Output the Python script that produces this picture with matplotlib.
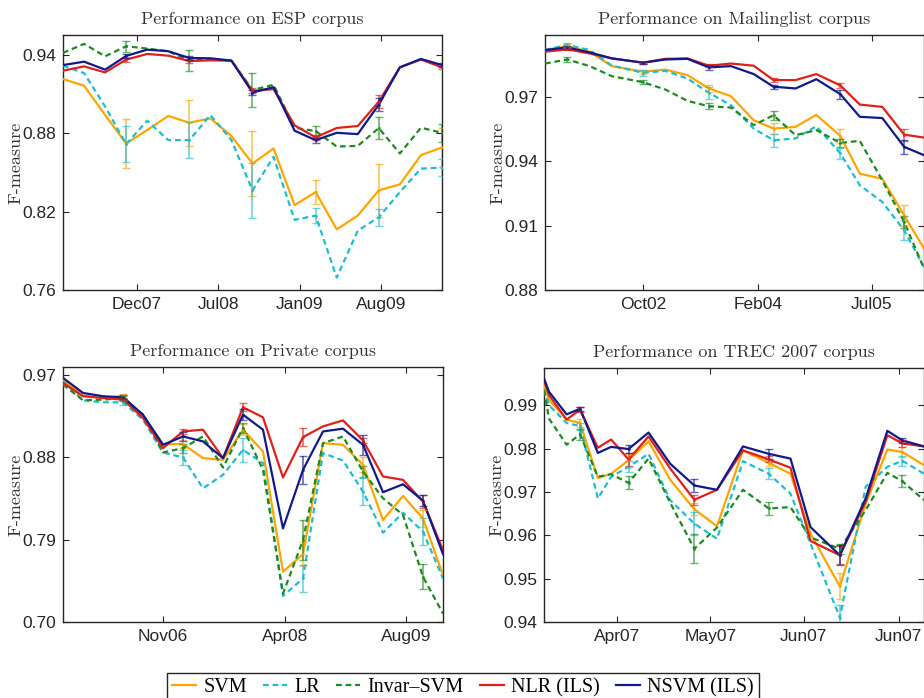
import matplotlib
matplotlib.use("Agg")
import matplotlib.pyplot as plt
from matplotlib.lines import Line2D
import numpy as np

plt.rcParams['font.family'] = ['Liberation Sans', 'DejaVu Sans']

# ---------------- ESP corpus ----------------
esp_x = np.arange(19)
esp_ticks = [3.51, 7.37, 11.24, 15.1]
esp_ticklabels = ['Dec07', 'Jul08', 'Jan09', 'Aug09']
esp_svm = [0.9213, 0.9162, 0.8938, 0.8720, 0.8823, 0.8931, 0.8879, 0.8913, 0.8777, 0.8567,
           0.8682, 0.8249, 0.8349, 0.8064, 0.8169, 0.8362, 0.8408, 0.8631, 0.8690]
esp_lr = [0.9315, 0.9259, 0.9003, 0.8715, 0.8895, 0.8746, 0.8746, 0.8938, 0.8746, 0.8362,
          0.8618, 0.8136, 0.8169, 0.7695, 0.8054, 0.8156, 0.8349, 0.8528, 0.8536]
esp_invar = [0.9413, 0.9482, 0.9387, 0.9464, 0.9446, 0.9426, 0.9354, 0.9362, 0.9354, 0.9130,
             0.9169, 0.8841, 0.8815, 0.8697, 0.8702, 0.8838, 0.8644, 0.8841, 0.8802]
esp_nlr = [0.9277, 0.9310, 0.9264, 0.9362, 0.9405, 0.9392, 0.9351, 0.9356, 0.9354, 0.9123,
           0.9136, 0.8859, 0.8767, 0.8839, 0.8854, 0.9041, 0.9303, 0.9362, 0.9303]
esp_nsvm = [0.9320, 0.9346, 0.9285, 0.9390, 0.9438, 0.9426, 0.9374, 0.9372, 0.9354, 0.9110,
            0.9151, 0.8818, 0.8746, 0.8802, 0.8792, 0.9018, 0.9303, 0.9367, 0.9320]
esp_err_idx = [3, 6, 9, 12, 15, 18]
esp_err_svm = [0.0186, 0.0176, 0.0249, 0.0090, 0.0205, 0.0150]
esp_err_lr = [0.0137, 0.0138, 0.0208, 0.0058, 0.0064, 0.0067]
esp_err_invar = [0.0042, 0.0083, 0.0128, 0.0042, 0.0087, 0.0068]
esp_err_nlr = [0.0015, 0.0015, 0.0020, 0.0020, 0.0047, 0.0015]
esp_err_nsvm = [0.0015, 0.0015, 0.0020, 0.0020, 0.0047, 0.0015]

# ---------------- Mailinglist corpus ----------------
mail_x = [0, 1.0, 2.0, 3.0, 4.4, 5.4, 6.39, 7.35, 8.34, 9.36, 10.25, 11.24, 12.17, 13.25,
          14.12, 15.13, 16.11, 17.0]
mail_ticks = [4.4, 9.54, 14.66]
mail_ticklabels = ['Oct02', 'Feb04', 'Jul05']
mail_svm = [0.9918, 0.9936, 0.9910, 0.9843, 0.9817, 0.9827, 0.9801, 0.9739, 0.9703, 0.9591,
            0.9552, 0.9560, 0.9616, 0.9517, 0.9342, 0.9318, 0.9148, 0.8993]
mail_lr = [0.9918, 0.9942, 0.9918, 0.9845, 0.9812, 0.9821, 0.9785, 0.9719, 0.9661, 0.9552,
           0.9498, 0.9506, 0.9563, 0.9436, 0.9288, 0.9210, 0.9078, 0.8907]
mail_invar = [0.9855, 0.9874, 0.9843, 0.9796, 0.9768, 0.9734, 0.9681, 0.9656, 0.9650, 0.9568,
              0.9614, 0.9521, 0.9545, 0.9485, 0.9495, 0.9311, 0.9117, 0.8900]
mail_nlr = [0.9910, 0.9921, 0.9902, 0.9879, 0.9859, 0.9877, 0.9879, 0.9845, 0.9855, 0.9845,
            0.9778, 0.9778, 0.9806, 0.9753, 0.9664, 0.9653, 0.9524, 0.9510]
mail_nsvm = [0.9918, 0.9930, 0.9907, 0.9879, 0.9859, 0.9874, 0.9877, 0.9837, 0.9843, 0.9806,
             0.9747, 0.9739, 0.9782, 0.9712, 0.9607, 0.9601, 0.9467, 0.9428]
mail_err_idx = [1, 4, 7, 10, 13, 16]
mail_err_svm = [0.0008, 0.0010, 0.0016, 0.0027, 0.0031, 0.0050]
mail_err_lr = [0.0008, 0.0014, 0.0028, 0.0031, 0.0027, 0.0045]
mail_err_invar = [0.0010, 0.0010, 0.0014, 0.0022, 0.0017, 0.0027]
mail_err_nlr = [0.0005, 0.0005, 0.0008, 0.0008, 0.0010, 0.0028]
mail_err_nsvm = [0.0005, 0.0005, 0.0010, 0.0010, 0.0021, 0.0033]

# ---------------- Private corpus ----------------
priv_x = np.arange(20)
priv_ticks = [5.01, 11.1, 17.15]
priv_ticklabels = ['Nov06', 'Apr08', 'Aug09']
priv_svm = [0.9652, 0.9477, 0.9451, 0.9470, 0.9257, 0.8946, 0.8946, 0.8793, 0.8774, 0.9104,
            0.8866, 0.7549, 0.7743, 0.8957, 0.8939, 0.8720, 0.8116, 0.8379, 0.8134, 0.7512]
priv_lr = [0.9634, 0.9426, 0.9404, 0.9404, 0.9213, 0.8855, 0.8800, 0.8463, 0.8610, 0.8884,
           0.8738, 0.7285, 0.7476, 0.8848, 0.8767, 0.8427, 0.7977, 0.8196, 0.7988, 0.7476]
priv_invar = [0.9598, 0.9426, 0.9433, 0.9451, 0.9268, 0.8855, 0.8902, 0.9030, 0.8690, 0.9122,
              0.8665, 0.7311, 0.7896, 0.8957, 0.9030, 0.8646, 0.8354, 0.8171, 0.7494, 0.7092]
priv_nlr = [0.9616, 0.9470, 0.9451, 0.9433, 0.9232, 0.8902, 0.9085, 0.9104, 0.8793, 0.9349,
            0.9239, 0.8581, 0.9023, 0.9140, 0.9206, 0.8987, 0.8592, 0.8555, 0.8317, 0.7787]
priv_nsvm = [0.9671, 0.9506, 0.9470, 0.9459, 0.9268, 0.8939, 0.9030, 0.8976, 0.8793, 0.9268,
             0.9104, 0.8024, 0.8665, 0.9085, 0.9115, 0.8939, 0.8420, 0.8507, 0.8328, 0.7743]
priv_err_idx = [3, 6, 9, 12, 15, 18]
priv_err_svm = [0.0025, 0.0040, 0.0060, 0.0128, 0.0080, 0.0090]
priv_err_lr = [0.0025, 0.0080, 0.0130, 0.0146, 0.0150, 0.0146]
priv_err_invar = [0.0025, 0.0050, 0.0055, 0.0216, 0.0064, 0.0137]
priv_err_nlr = [0.0020, 0.0030, 0.0045, 0.0095, 0.0030, 0.0073]
priv_err_nsvm = [0.0020, 0.0050, 0.0060, 0.0155, 0.0110, 0.0064]

# ---------------- TREC 2007 corpus ----------------
trec_x = [0, 0.27, 1.21, 1.93, 2.88, 3.59, 4.52, 5.59, 6.75, 8.04, 9.25, 10.64, 12.02, 13.18,
          14.25, 15.82, 17.2, 18.36, 19.16, 20.32]
trec_ticks = [3.89, 8.89, 13.89, 18.98]
trec_ticklabels = ['Apr07', 'May07', 'Jun07', 'Jun07']
trec_svm = [0.9946, 0.9912, 0.9867, 0.9859, 0.9732, 0.9742, 0.9773, 0.9817, 0.9728, 0.9660,
            0.9621, 0.9796, 0.9767, 0.9742, 0.9604, 0.9482, 0.9673, 0.9798, 0.9792, 0.9762]
trec_lr = [0.9938, 0.9900, 0.9859, 0.9852, 0.9685, 0.9735, 0.9758, 0.9788, 0.9681, 0.9627,
           0.9592, 0.9771, 0.9742, 0.9696, 0.9581, 0.9410, 0.9712, 0.9758, 0.9772, 0.9742]
trec_invar = [0.9935, 0.9869, 0.9809, 0.9833, 0.9735, 0.9741, 0.9721, 0.9777, 0.9675, 0.9569,
              0.9618, 0.9705, 0.9662, 0.9665, 0.9595, 0.9569, 0.9658, 0.9744, 0.9725, 0.9681]
trec_nlr = [0.9958, 0.9923, 0.9867, 0.9890, 0.9802, 0.9821, 0.9775, 0.9828, 0.9754, 0.9682,
            0.9705, 0.9796, 0.9775, 0.9756, 0.9587, 0.9554, 0.9677, 0.9831, 0.9812, 0.9805]
trec_nsvm = [0.9962, 0.9931, 0.9879, 0.9892, 0.9790, 0.9804, 0.9799, 0.9837, 0.9765, 0.9715,
             0.9705, 0.9805, 0.9788, 0.9777, 0.9619, 0.9554, 0.9685, 0.9841, 0.9819, 0.9805]
trec_err_idx = [3, 6, 9, 12, 15, 18]
trec_err_svm = [0.0010, 0.0015, 0.0014, 0.0008, 0.0030, 0.0012]
trec_err_lr = [0.0008, 0.0013, 0.0026, 0.0013, 0.0029, 0.0012]
trec_err_invar = [0.0012, 0.0015, 0.0034, 0.0016, 0.0012, 0.0014]
trec_err_nlr = [0.0005, 0.0014, 0.0012, 0.0007, 0.0021, 0.0008]
trec_err_nsvm = [0.0005, 0.0009, 0.0015, 0.0012, 0.0023, 0.0006]

# ---------------- styling ----------------
method_names = ['SVM', 'LR', 'Invar\u2013SVM', 'NLR (ILS)', 'NSVM (ILS)']
method_colors = ['#FFA500', '#1FBCD2', '#1E8B22', '#E0201B', '#101A8C']
DASH = (0, (2.6, 1.7))
method_styles = ['-', DASH, DASH, '-', '-']
TEXT_COL = '#262626'

W, H = 924, 698
fig = plt.figure(figsize=(W / 100, H / 100), dpi=100)


def rect(l, t, r, b):
    return [l / W, 1 - b / H, (r - l) / W, (b - t) / H]


def panel(box, title, x, series, err_idx, errs, xlim, ylim, yticks, ytickfmt,
          xticks, xticklabels):
    ax = fig.add_axes(rect(*box))
    x = np.asarray(x, dtype=float)
    for ys, e, c, ls in zip(series, errs, method_colors, method_styles):
        ys = np.asarray(ys)
        ax.plot(x, ys, color=c, linestyle=ls, lw=1.6, zorder=3)
        ax.errorbar(x[err_idx], ys[err_idx], yerr=e, fmt='.', ms=2.5, color=c,
                    ecolor=c, elinewidth=1.2, capsize=2.8, capthick=1.0,
                    alpha=0.65, zorder=4)
    ax.set_xlim(*xlim)
    ax.set_ylim(*ylim)
    ax.set_yticks(yticks)
    ax.set_yticklabels([ytickfmt.format(v) for v in yticks])
    ax.set_xticks(xticks)
    ax.set_xticklabels(xticklabels)
    ax.tick_params(direction='in', top=True, right=True, length=4.5, width=0.8,
                   labelsize=12.5, pad=5, colors=TEXT_COL, labelcolor=TEXT_COL)
    for s in ax.spines.values():
        s.set_linewidth(1.0)
        s.set_color('#262626')
    ax.set_title(title, fontfamily='cmr10', fontsize=13, color='#333333', pad=8)
    ax.set_ylabel('F-measure', fontfamily='cmr10', fontsize=13, color='#333333',
                  labelpad=-1)
    return ax


panel((63, 35, 442, 290), 'Performance on ESP corpus', esp_x,
      [esp_svm, esp_lr, esp_invar, esp_nlr, esp_nsvm], esp_err_idx,
      [esp_err_svm, esp_err_lr, esp_err_invar, esp_err_nlr, esp_err_nsvm],
      (0, 18), (0.76, 0.955), [0.76, 0.82, 0.88, 0.94], '{:.2f}',
      esp_ticks, esp_ticklabels)

panel((545, 35, 924, 290), 'Performance on Mailinglist corpus', mail_x,
      [mail_svm, mail_lr, mail_invar, mail_nlr, mail_nsvm], mail_err_idx,
      [mail_err_svm, mail_err_lr, mail_err_invar, mail_err_nlr, mail_err_nsvm],
      (0, 17), (0.88, 0.9988), [0.88, 0.91, 0.94, 0.97], '{:.2f}',
      mail_ticks, mail_ticklabels)

panel((63, 367, 443, 622), 'Performance on Private corpus', priv_x,
      [priv_svm, priv_lr, priv_invar, priv_nlr, priv_nsvm], priv_err_idx,
      [priv_err_svm, priv_err_lr, priv_err_invar, priv_err_nlr, priv_err_nsvm],
      (0, 19), (0.70, 0.979), [0.70, 0.79, 0.88, 0.97], '{:.2f}',
      priv_ticks, priv_ticklabels)

panel((544, 368, 924, 622), 'Performance on TREC 2007 corpus', trec_x,
      [trec_svm, trec_lr, trec_invar, trec_nlr, trec_nsvm], trec_err_idx,
      [trec_err_svm, trec_err_lr, trec_err_invar, trec_err_nlr, trec_err_nsvm],
      (0, 20.32), (0.94, 0.9986), [0.94, 0.95, 0.96, 0.97, 0.98, 0.99], '{:.2f}',
      trec_ticks, trec_ticklabels)

handles = [Line2D([], [], color=c, linestyle=ls, lw=1.6)
           for c, ls in zip(method_colors, method_styles)]
leg = fig.legend(handles, method_names, loc='upper center',
                 bbox_to_anchor=(463 / W, 25 / H), ncol=5, frameon=True,
                 fancybox=False, edgecolor='#262626', framealpha=1,
                 prop={'family': 'Liberation Serif', 'size': 14.5},
                 handlelength=1.2, handletextpad=0.35, columnspacing=0.8,
                 borderpad=0.25, borderaxespad=0)
leg.get_frame().set_linewidth(1.0)

fig.savefig('out.png', dpi=100)
